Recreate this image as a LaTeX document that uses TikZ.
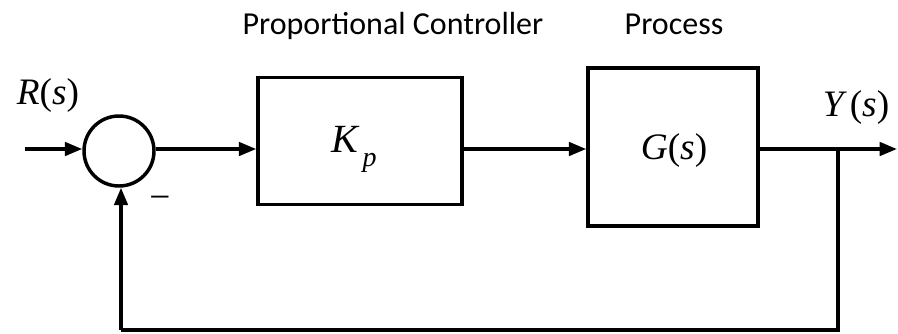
\documentclass[tikz,border=0pt]{standalone}
\usepackage{fontspec}
\setmainfont{Liberation Serif}
\newfontfamily\titlefont{Carlito}
\newfontfamily\labfont{Liberation Serif}
\usetikzlibrary{arrows.meta}
\begin{document}
\begin{tikzpicture}[x=0.75pt,y=-0.75pt,
  line width=2.6pt,
  sig/.style={-{Triangle[length=13pt,width=10pt]}},
  blockbox/.style={draw,line width=2.6pt,inner sep=0pt},
  ttl/.style={font=\titlefont\fontsize{24}{28}\selectfont,anchor=base},
  mlab/.style={font=\labfont\fontsize{28}{32}\selectfont,anchor=base}]
\useasboundingbox[fill=white] (0,0) rectangle (898,333);
% nodes
\coordinate (in) at (25,149);
\node[draw,circle,minimum size=70*0.75pt,inner sep=0pt,line width=2.6pt] (sum) at (119,151) {};
\node[blockbox,minimum width=204*0.75pt,minimum height=127*0.75pt] (kp) at (360,141) {};
\node[blockbox,minimum width=170*0.75pt,minimum height=158*0.75pt] (g) at (673,147) {};
\coordinate (br) at (838,149);
\coordinate (out) at (897,149);
\coordinate (fbr) at (838,330);
\coordinate (fbl) at (121,330);
% labels
\node[ttl] (t1) at (393,34) {Proportional Controller};
\node[ttl] (t2) at (674,34) {Process};
\node[mlab] (rl) at (48,104) {\itshape R\upshape(\itshape s\upshape)};
\node[mlab] (yl) at (856,116) {\itshape Y\,\upshape(\itshape s\upshape)};
\node[mlab] (gl) at (674,159) {\itshape G\upshape(\itshape s\upshape)};
\node[mlab,font=\labfont\fontsize{30}{34}\selectfont] (kl) at (354,152) {\itshape K\raisebox{-0.35em}{\fontsize{21}{24}\selectfont\,p}};
\node[font=\labfont\fontsize{28}{32}\selectfont] (minus) at (160,203) {−};
% connectors
\draw[sig] (in) -- (sum.west |- in);
\draw[sig] (sum.east |- in) -- (kp.west |- in);
\draw[sig] (kp.east |- in) -- (g.west |- in);
\draw[sig] (g.east |- in) -- (out);
\draw (br) -- (fbr) -- (fbl);
\draw[sig] (fbl) -- (sum.south -| fbl);
\end{tikzpicture}
\end{document}
